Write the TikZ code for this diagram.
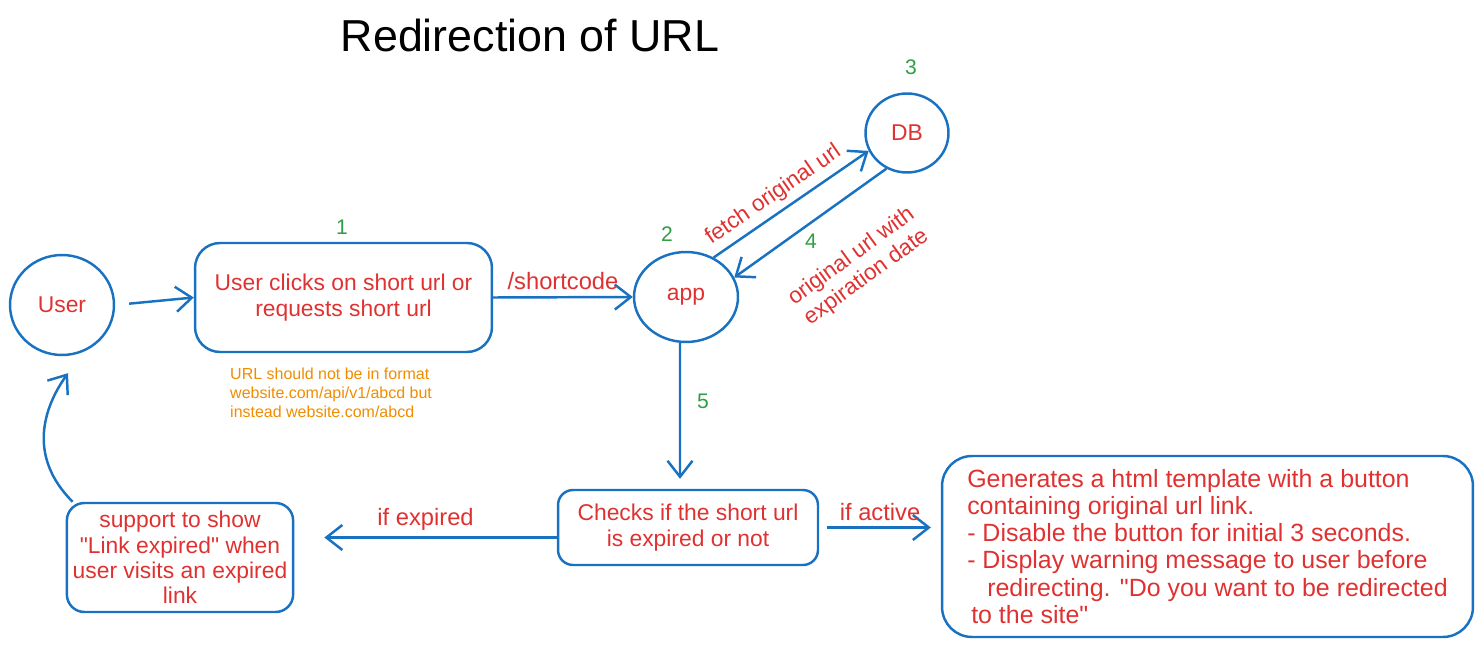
\documentclass[tikz,border=0pt]{standalone}
\usepackage{fontspec}
\setmainfont{Liberation Sans}
\usetikzlibrary{shapes.geometric, arrows.meta}
\definecolor{skblue}{HTML}{1971C2}
\definecolor{skred}{HTML}{E03131}
\definecolor{skgreen}{HTML}{2F9E44}
\definecolor{skorange}{HTML}{F08C00}

\begin{document}
\begin{tikzpicture}[x=0.02cm, y=-0.02cm,
rnd/.style = {% round nodes
    draw=skblue, line width=1.4pt, ellipse, inner sep=0pt,
    text=skred, font=\fontsize{13}{14.5}\selectfont,
            },
bx/.style = {% boxes
    draw=skblue, line width=1.4pt, rounded corners=0.4cm, align=center,
    text=skred, font=\fontsize{13}{14.5}\selectfont,
            },
lbl/.style = {% connector labels
    text=skred, font=\fontsize{13.5}{14.5}\selectfont, align=center,
            },
num/.style = {text=skgreen, font=\fontsize{12}{14}\selectfont},
arr/.style = {->, draw=skblue, line width=1.4pt},
>={Straight Barb[length=3.2mm, width=5mm]},
                        ]
\useasboundingbox (0,0) rectangle (1483,668);
% title
\node[font=\fontsize{25.5}{28}\selectfont] (ttl) at (530,35) {Redirection of URL};
% nodes
\node[rnd, minimum width=2.08cm, minimum height=2cm] (user) at (62,305) {User};
\node[bx, minimum width=5.94cm, minimum height=2.18cm, rounded corners=0.5cm]
     (click) at (343.5,297.5) {User clicks on short url or\\requests short url};
\node[rnd, minimum width=2.08cm, minimum height=1.8cm] (app) at (686,297) {app};
\node[rnd, minimum width=1.66cm, minimum height=1.58cm] (db) at (907,133) {DB};
\node[bx, minimum width=5.2cm, minimum height=1.5cm, rounded corners=0.3cm]
     (check) at (688,527.5) {Checks if the short url\\is expired or not};
\node[bx, minimum width=4.48cm, minimum height=2.18cm, rounded corners=0.35cm]
     (expired) at (180,557.5) {support to show\\\textquotedbl Link expired\textquotedbl{} when\\user visits an expired\\link};
\node[bx, minimum width=10.62cm, minimum height=3.62cm, rounded corners=0.6cm,
      align=left, font=\fontsize{14.2}{15.4}\selectfont]
     (tmpl) at (1207.5,546.5) {Generates a html template with a button\\
        containing original url link.\\
        - Disable the button for initial 3 seconds.\\
        - Display warning message to user before\\
        \hspace*{0.4cm}redirecting. \textquotedbl Do you want to be redirected\\
        \hspace*{0.08cm}to the site\textquotedbl};
% note
\node[anchor=north west, align=left, text=skorange,
      font=\fontsize{9.1}{10.8}\selectfont]
     (fmt) at (224,362) {URL should not be in format\\website.com/api/v1/abcd but\\instead website.com/abcd};
% step numbers
\node[num] (n1) at (342,227) {1};
\node[num] (n2) at (667,234) {2};
\node[num] (n3) at (911,67) {3};
\node[num] (n4) at (811,241) {4};
% connectors
\draw[arr, shorten <=0.28cm] (user.east) -- (click.west);
\draw[arr] (click.east) -- (app.west) node[lbl, midway, above] {/shortcode};
\draw[arr] (app.55) -- (db.205)
      node[lbl, pos=0.45, above, sloped, font=\fontsize{12.8}{14}\selectfont] {fetch original url};
\draw[arr] (db.240) -- (app.22);
\node[lbl, rotate=36, font=\fontsize{12.8}{14.5}\selectfont] (exp) at (859,267) {original url with\\expiration date};
\draw[arr, shorten >=0.2cm] ([xshift=-0.12cm]app.south) -- ([xshift=-0.16cm]check.north)
      node[num, pos=0.4, right=2mm] (n5) {5};
\draw[arr, shorten <=0.16cm, shorten >=0.2cm] (check.east) -- (check.east -| tmpl.west)
      node[lbl, midway, above] {if active};
\coordinate (exptip) at (check.west -| expired.east);
\draw[arr, shorten >=0.6cm] ([yshift=-0.2cm]check.west) -- ([yshift=-0.2cm]exptip)
      node[lbl, midway, above] {if expired};
\draw[arr] ([xshift=0.14cm]expired.north west) .. controls +(-45,-45) and +(-25,35) ..
      ([xshift=0.12cm,yshift=-0.34cm]user.south);
\end{tikzpicture}
\end{document}
